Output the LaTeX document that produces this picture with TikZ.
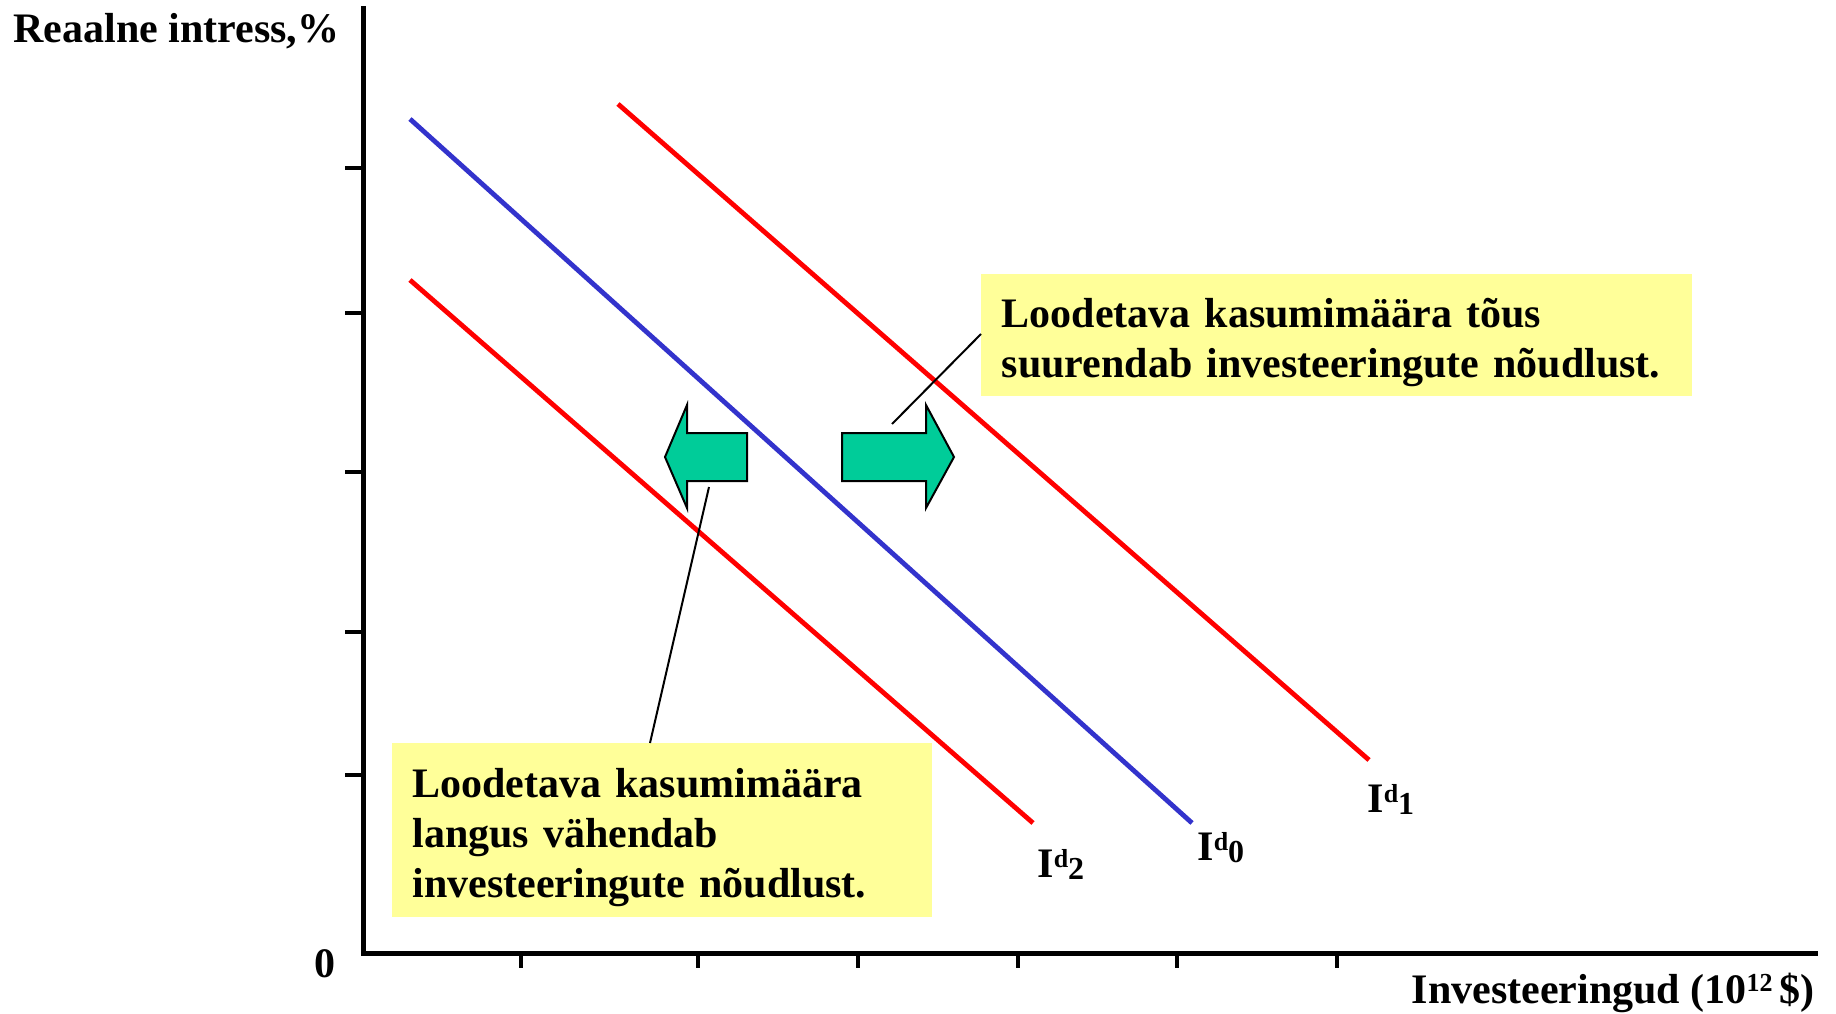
\documentclass[tikz,border=0pt]{standalone}
\usepackage{fontspec}
\setmainfont{Liberation Serif}
\hyphenpenalty=10000
\exhyphenpenalty=10000
\definecolor{curvered}{RGB}{255,0,0}
\definecolor{curveblue}{RGB}{51,51,204}
\definecolor{notey}{RGB}{255,255,153}
\definecolor{arrowgreen}{RGB}{0,204,153}
\newcommand{\curvelbl}[1]{I\raisebox{5pt}{\fontsize{13}{13}\selectfont d}\raisebox{-1pt}{\fontsize{16}{16}\selectfont #1}}
\newcommand{\topstrut}{\rule{0pt}{21.5pt}}
\tikzset{
  axisline/.style={line width=2.5pt, line cap=rect},
  tickline/.style={line width=2pt},
  curveA/.style={line width=2.4pt, color=curvered},
  curveB/.style={line width=2.4pt, color=curveblue},
  notebox/.style={fill=notey, inner xsep=10pt, inner ysep=0pt, align=left,
    font=\fontsize{21}{25}\selectfont\bfseries},
  lbl/.style={inner sep=0pt, font=\fontsize{21}{25}\selectfont\bfseries},
  shiftarrow/.style={fill=arrowgreen, draw=black, line width=1pt, line join=miter},
  callout/.style={line width=1pt, black},
}
\begin{document}
\begin{tikzpicture}[x=0.5pt, y=-0.5pt]
\useasboundingbox (0,0) rectangle (1836,1013);
% axes
\coordinate (ytop) at (363,8);
\coordinate (orig) at (363,953);
\coordinate (xend) at (1815,953);
\draw[axisline] (ytop) -- (orig) -- (xend);
\foreach \yy in {168,313,472,632,775} \draw[tickline] (345,\yy) -- (363,\yy);
\foreach \xx in {521,698,858,1018,1177,1337} \draw[tickline] (\xx,953) -- (\xx,968);
\node[lbl, anchor=base west] (ylab) at (13,42) {Reaalne intress,\%};
\node[lbl, anchor=base east] (xlab) at (1815,1003) {Investeeringud (10\raisebox{6pt}{\fontsize{13}{13}\selectfont 12}\,\$)};
\node[lbl, anchor=base] (zero) at (325,977) {0};
% curves
\coordinate (i1a) at (618,104); \coordinate (i1b) at (1369,760);
\coordinate (i0a) at (410,119); \coordinate (i0b) at (1192,823);
\coordinate (i2a) at (410,280); \coordinate (i2b) at (1033,823);
\draw[curveA] (i1a) -- (i1b);
\draw[curveB] (i0a) -- (i0b);
\draw[curveA] (i2a) -- (i2b);
\node[lbl, anchor=base west] (l1) at (1367,812) {\curvelbl{1}};
\node[lbl, anchor=base west] (l0) at (1197,860) {\curvelbl{0}};
\node[lbl, anchor=base west] (l2) at (1037,877) {\curvelbl{2}};
% boxes
\node[notebox, anchor=north west, minimum width=355.5pt, minimum height=61pt, text width=335pt] (b1) at (981,274)
  {\topstrut Loodetava kasumimäära tõus\\suurendab investeeringute nõudlust.};
\node[notebox, anchor=north west, minimum width=270pt, minimum height=87pt, text width=250pt] (b2) at (392,743)
  {\topstrut Loodetava kasumimäära\\langus vähendab\\investeeringute nõudlust.};
% callout lines
\coordinate (c1) at (892,424);
\coordinate (c2) at (709,487);
\draw[callout] (c1) -- (b1.west |- 0,334);
\draw[callout] (c2) -- (b2.north -| 650,0);
% arrows
\draw[shiftarrow] (665,457) -- (687,405) -- (687,433) -- (747,433) -- (747,481) -- (687,481) -- (687,508) -- cycle;
\draw[shiftarrow] (842,433) -- (926,433) -- (926,405) -- (954,457) -- (926,508) -- (926,481) -- (842,481) -- cycle;
\end{tikzpicture}
\end{document}
